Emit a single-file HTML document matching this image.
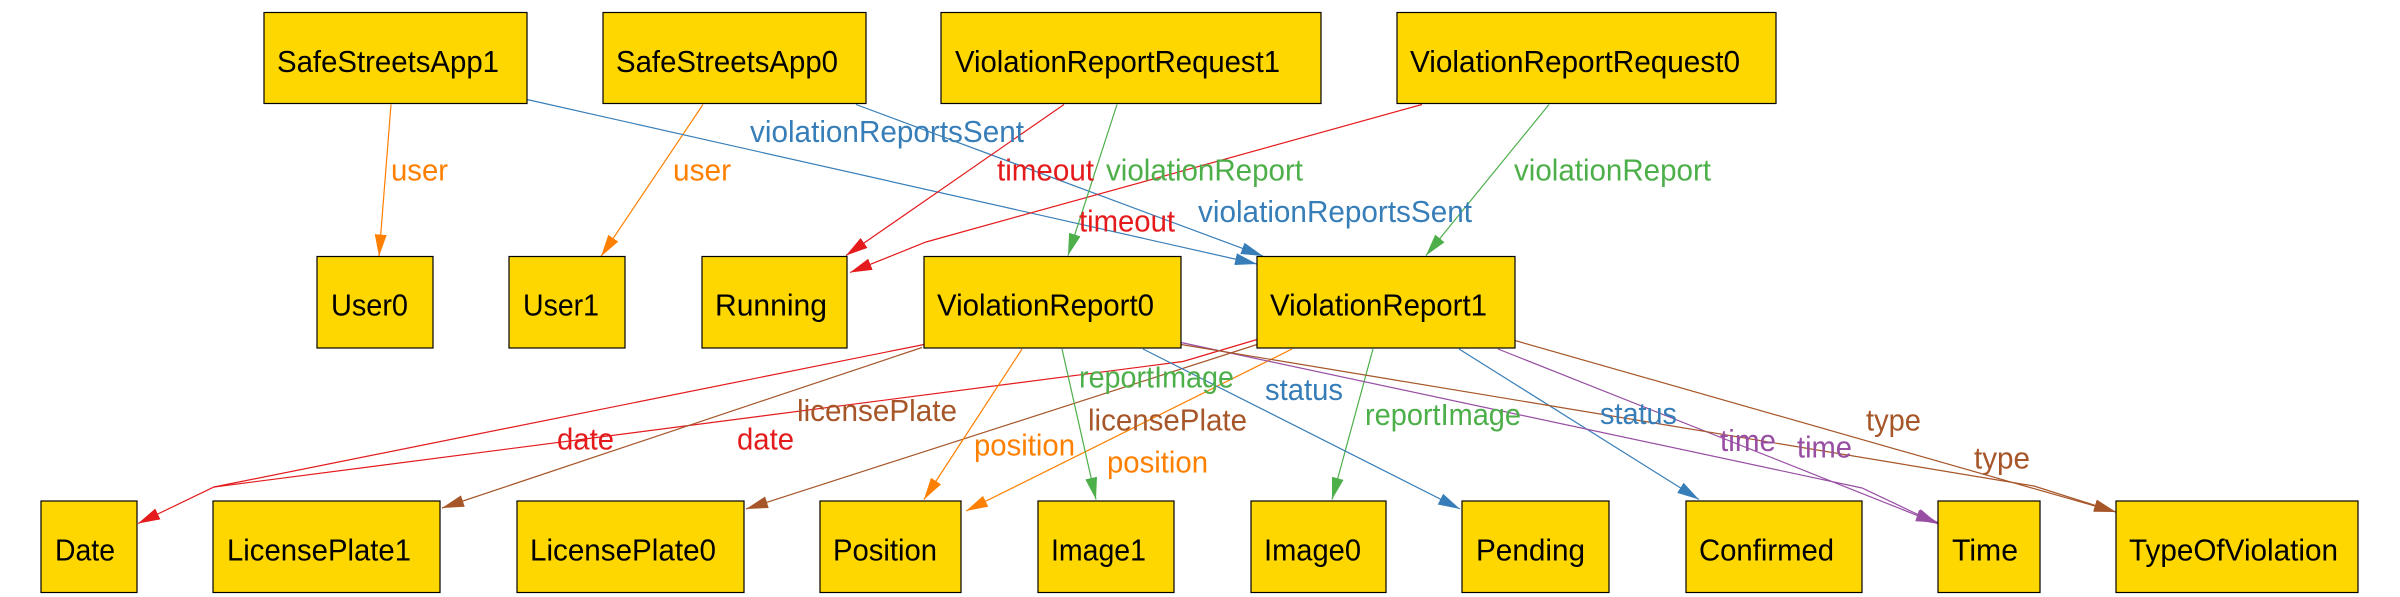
<!DOCTYPE html>
<html><head><meta charset="utf-8"><style>
html,body{margin:0;padding:0;background:#fff;}
svg{display:block;}
text{font-family:"Liberation Sans",Arial,sans-serif;font-size:27px;}
</style></head><body>
<svg width="2400" height="597" viewBox="0 0 2400 597" xmlns="http://www.w3.org/2000/svg">
<defs>
<marker id="mo" markerUnits="userSpaceOnUse" markerWidth="24" markerHeight="14" refX="22" refY="7" orient="auto"><path d="M0,1 L22,7 L0,13 z" fill="#ff7f00"/></marker>
<marker id="mb" markerUnits="userSpaceOnUse" markerWidth="24" markerHeight="14" refX="22" refY="7" orient="auto"><path d="M0,1 L22,7 L0,13 z" fill="#377eb8"/></marker>
<marker id="mr" markerUnits="userSpaceOnUse" markerWidth="24" markerHeight="14" refX="22" refY="7" orient="auto"><path d="M0,1 L22,7 L0,13 z" fill="#e41a1c"/></marker>
<marker id="mg" markerUnits="userSpaceOnUse" markerWidth="24" markerHeight="14" refX="22" refY="7" orient="auto"><path d="M0,1 L22,7 L0,13 z" fill="#4daf4a"/></marker>
<marker id="mn" markerUnits="userSpaceOnUse" markerWidth="24" markerHeight="14" refX="22" refY="7" orient="auto"><path d="M0,1 L22,7 L0,13 z" fill="#a65628"/></marker>
<marker id="mp" markerUnits="userSpaceOnUse" markerWidth="24" markerHeight="14" refX="22" refY="7" orient="auto"><path d="M0,1 L22,7 L0,13 z" fill="#984ea3"/></marker>
</defs>
<g fill="none" stroke-width="1.2">
<polyline points="391,104.5 379,256.5" stroke="#ff7f00" marker-end="url(#mo)"/>
<polyline points="703,104.5 601,256.5" stroke="#ff7f00" marker-end="url(#mo)"/>
<polyline points="527,99.5 1257,264" stroke="#377eb8" marker-end="url(#mb)"/>
<polyline points="856,104.5 1263,256" stroke="#377eb8" marker-end="url(#mb)"/>
<polyline points="1064,104.5 846,255.5" stroke="#e41a1c" marker-end="url(#mr)"/>
<polyline points="1422,104.5 926,242 850,272.5" stroke="#e41a1c" marker-end="url(#mr)"/>
<polyline points="1117,104.5 1068,255.5" stroke="#4daf4a" marker-end="url(#mg)"/>
<polyline points="1549,104.5 1426,255.5" stroke="#4daf4a" marker-end="url(#mg)"/>
<polyline points="924,344.5 214,487 138,523.5" stroke="#e41a1c" marker-end="url(#mr)"/>
<polyline points="1257,339.5 1183,361.5 214,487" stroke="#e41a1c"/>
<polyline points="922,347.5 442,508" stroke="#a65628" marker-end="url(#mn)"/>
<polyline points="1257,344.5 746,509" stroke="#a65628" marker-end="url(#mn)"/>
<polyline points="1022,349 924,499.5" stroke="#ff7f00" marker-end="url(#mo)"/>
<polyline points="1292,349 966,511" stroke="#ff7f00" marker-end="url(#mo)"/>
<polyline points="1062,349 1096,499.5" stroke="#4daf4a" marker-end="url(#mg)"/>
<polyline points="1373,349 1332,499.5" stroke="#4daf4a" marker-end="url(#mg)"/>
<polyline points="1143,349 1460,509" stroke="#377eb8" marker-end="url(#mb)"/>
<polyline points="1459,349 1699,499.5" stroke="#377eb8" marker-end="url(#mb)"/>
<polyline points="1181,342.5 1862,488 1938,524" stroke="#984ea3" marker-end="url(#mp)"/>
<polyline points="1498,349 1920,516.5 1938,522.5" stroke="#984ea3" marker-end="url(#mp)"/>
<polyline points="1181,344.5 2034,486 2116,512" stroke="#a65628" marker-end="url(#mn)"/>
<polyline points="1515,340.5 2116,512" stroke="#a65628" marker-end="url(#mn)"/>
</g>
<g fill="#ffd700" stroke="#000" stroke-width="1.2">
<rect x="264" y="12.5" width="263" height="91"/>
<rect x="603" y="12.5" width="263" height="91"/>
<rect x="941" y="12.5" width="380" height="91"/>
<rect x="1397" y="12.5" width="379" height="91"/>
<rect x="317" y="256.5" width="116" height="91.5"/>
<rect x="509" y="256.5" width="116" height="91.5"/>
<rect x="702" y="256.5" width="145" height="91.5"/>
<rect x="924" y="256.5" width="257" height="91.5"/>
<rect x="1257" y="256.5" width="258" height="91.5"/>
<rect x="41" y="501" width="96" height="91.5"/>
<rect x="213" y="501" width="227" height="91.5"/>
<rect x="517" y="501" width="227" height="91.5"/>
<rect x="820" y="501" width="141" height="91.5"/>
<rect x="1038" y="501" width="136" height="91.5"/>
<rect x="1251" y="501" width="135" height="91.5"/>
<rect x="1462" y="501" width="147" height="91.5"/>
<rect x="1686" y="501" width="176" height="91.5"/>
<rect x="1938" y="501" width="102" height="91.5"/>
<rect x="2116" y="501" width="242" height="91.5"/>
</g>
<g fill="#000">
<text transform="translate(277,72) scale(1,1.14)" textLength="222" lengthAdjust="spacingAndGlyphs">SafeStreetsApp1</text>
<text transform="translate(616,72) scale(1,1.14)" textLength="222" lengthAdjust="spacingAndGlyphs">SafeStreetsApp0</text>
<text transform="translate(955,72) scale(1,1.14)" textLength="325" lengthAdjust="spacingAndGlyphs">ViolationReportRequest1</text>
<text transform="translate(1410,72) scale(1,1.14)" textLength="330" lengthAdjust="spacingAndGlyphs">ViolationReportRequest0</text>
<text transform="translate(331,315.5) scale(1,1.14)" textLength="77" lengthAdjust="spacingAndGlyphs">User0</text>
<text transform="translate(523,315.5) scale(1,1.14)" textLength="76" lengthAdjust="spacingAndGlyphs">User1</text>
<text transform="translate(715,315.5) scale(1,1.14)" textLength="112" lengthAdjust="spacingAndGlyphs">Running</text>
<text transform="translate(937,315.5) scale(1,1.14)" textLength="217" lengthAdjust="spacingAndGlyphs">ViolationReport0</text>
<text transform="translate(1270,315.5) scale(1,1.14)" textLength="217" lengthAdjust="spacingAndGlyphs">ViolationReport1</text>
<text transform="translate(55,560.5) scale(1,1.14)" textLength="60" lengthAdjust="spacingAndGlyphs">Date</text>
<text transform="translate(227,560.5) scale(1,1.14)" textLength="184" lengthAdjust="spacingAndGlyphs">LicensePlate1</text>
<text transform="translate(530,560.5) scale(1,1.14)" textLength="186" lengthAdjust="spacingAndGlyphs">LicensePlate0</text>
<text transform="translate(833,560.5) scale(1,1.14)" textLength="104" lengthAdjust="spacingAndGlyphs">Position</text>
<text transform="translate(1051,560.5) scale(1,1.14)" textLength="95" lengthAdjust="spacingAndGlyphs">Image1</text>
<text transform="translate(1264,560.5) scale(1,1.14)" textLength="97" lengthAdjust="spacingAndGlyphs">Image0</text>
<text transform="translate(1476,560.5) scale(1,1.14)" textLength="109" lengthAdjust="spacingAndGlyphs">Pending</text>
<text transform="translate(1699,560.5) scale(1,1.14)" textLength="135" lengthAdjust="spacingAndGlyphs">Confirmed</text>
<text transform="translate(1952,560.5) scale(1,1.14)" textLength="66" lengthAdjust="spacingAndGlyphs">Time</text>
<text transform="translate(2129,560.5) scale(1,1.14)" textLength="209" lengthAdjust="spacingAndGlyphs">TypeOfViolation</text>
</g>
<g>
<text fill="#ff7f00" transform="translate(391,180.5) scale(1,1.14)" textLength="57" lengthAdjust="spacingAndGlyphs">user</text>
<text fill="#ff7f00" transform="translate(673,180.5) scale(1,1.14)" textLength="58" lengthAdjust="spacingAndGlyphs">user</text>
<text fill="#377eb8" transform="translate(750,142) scale(1,1.14)" textLength="274" lengthAdjust="spacingAndGlyphs">violationReportsSent</text>
<text fill="#e41a1c" transform="translate(997,180.5) scale(1,1.14)" textLength="97" lengthAdjust="spacingAndGlyphs">timeout</text>
<text fill="#4daf4a" transform="translate(1106,180.5) scale(1,1.14)" textLength="197" lengthAdjust="spacingAndGlyphs">violationReport</text>
<text fill="#e41a1c" transform="translate(1079,231.5) scale(1,1.14)" textLength="96" lengthAdjust="spacingAndGlyphs">timeout</text>
<text fill="#377eb8" transform="translate(1198,222) scale(1,1.14)" textLength="274" lengthAdjust="spacingAndGlyphs">violationReportsSent</text>
<text fill="#4daf4a" transform="translate(1514,180.5) scale(1,1.14)" textLength="197" lengthAdjust="spacingAndGlyphs">violationReport</text>
<text fill="#4daf4a" transform="translate(1079,387.5) scale(1,1.14)" textLength="155" lengthAdjust="spacingAndGlyphs">reportImage</text>
<text fill="#a65628" transform="translate(797,421) scale(1,1.14)" textLength="160" lengthAdjust="spacingAndGlyphs">licensePlate</text>
<text fill="#a65628" transform="translate(1088,430.5) scale(1,1.14)" textLength="159" lengthAdjust="spacingAndGlyphs">licensePlate</text>
<text fill="#e41a1c" transform="translate(557,449.5) scale(1,1.14)" textLength="57" lengthAdjust="spacingAndGlyphs">date</text>
<text fill="#e41a1c" transform="translate(737,449.5) scale(1,1.14)" textLength="57" lengthAdjust="spacingAndGlyphs">date</text>
<text fill="#ff7f00" transform="translate(974,455.5) scale(1,1.14)" textLength="101" lengthAdjust="spacingAndGlyphs">position</text>
<text fill="#ff7f00" transform="translate(1107,472.5) scale(1,1.14)" textLength="101" lengthAdjust="spacingAndGlyphs">position</text>
<text fill="#377eb8" transform="translate(1265,400) scale(1,1.14)" textLength="78" lengthAdjust="spacingAndGlyphs">status</text>
<text fill="#4daf4a" transform="translate(1365,425) scale(1,1.14)" textLength="156" lengthAdjust="spacingAndGlyphs">reportImage</text>
<text fill="#377eb8" transform="translate(1600,424) scale(1,1.14)" textLength="77" lengthAdjust="spacingAndGlyphs">status</text>
<text fill="#984ea3" transform="translate(1720,451) scale(1,1.14)" textLength="56" lengthAdjust="spacingAndGlyphs">time</text>
<text fill="#984ea3" transform="translate(1797,457.5) scale(1,1.14)" textLength="55" lengthAdjust="spacingAndGlyphs">time</text>
<text fill="#a65628" transform="translate(1866,430.5) scale(1,1.14)" textLength="55" lengthAdjust="spacingAndGlyphs">type</text>
<text fill="#a65628" transform="translate(1974,468.5) scale(1,1.14)" textLength="56" lengthAdjust="spacingAndGlyphs">type</text>
</g>
</svg>
</body></html>
